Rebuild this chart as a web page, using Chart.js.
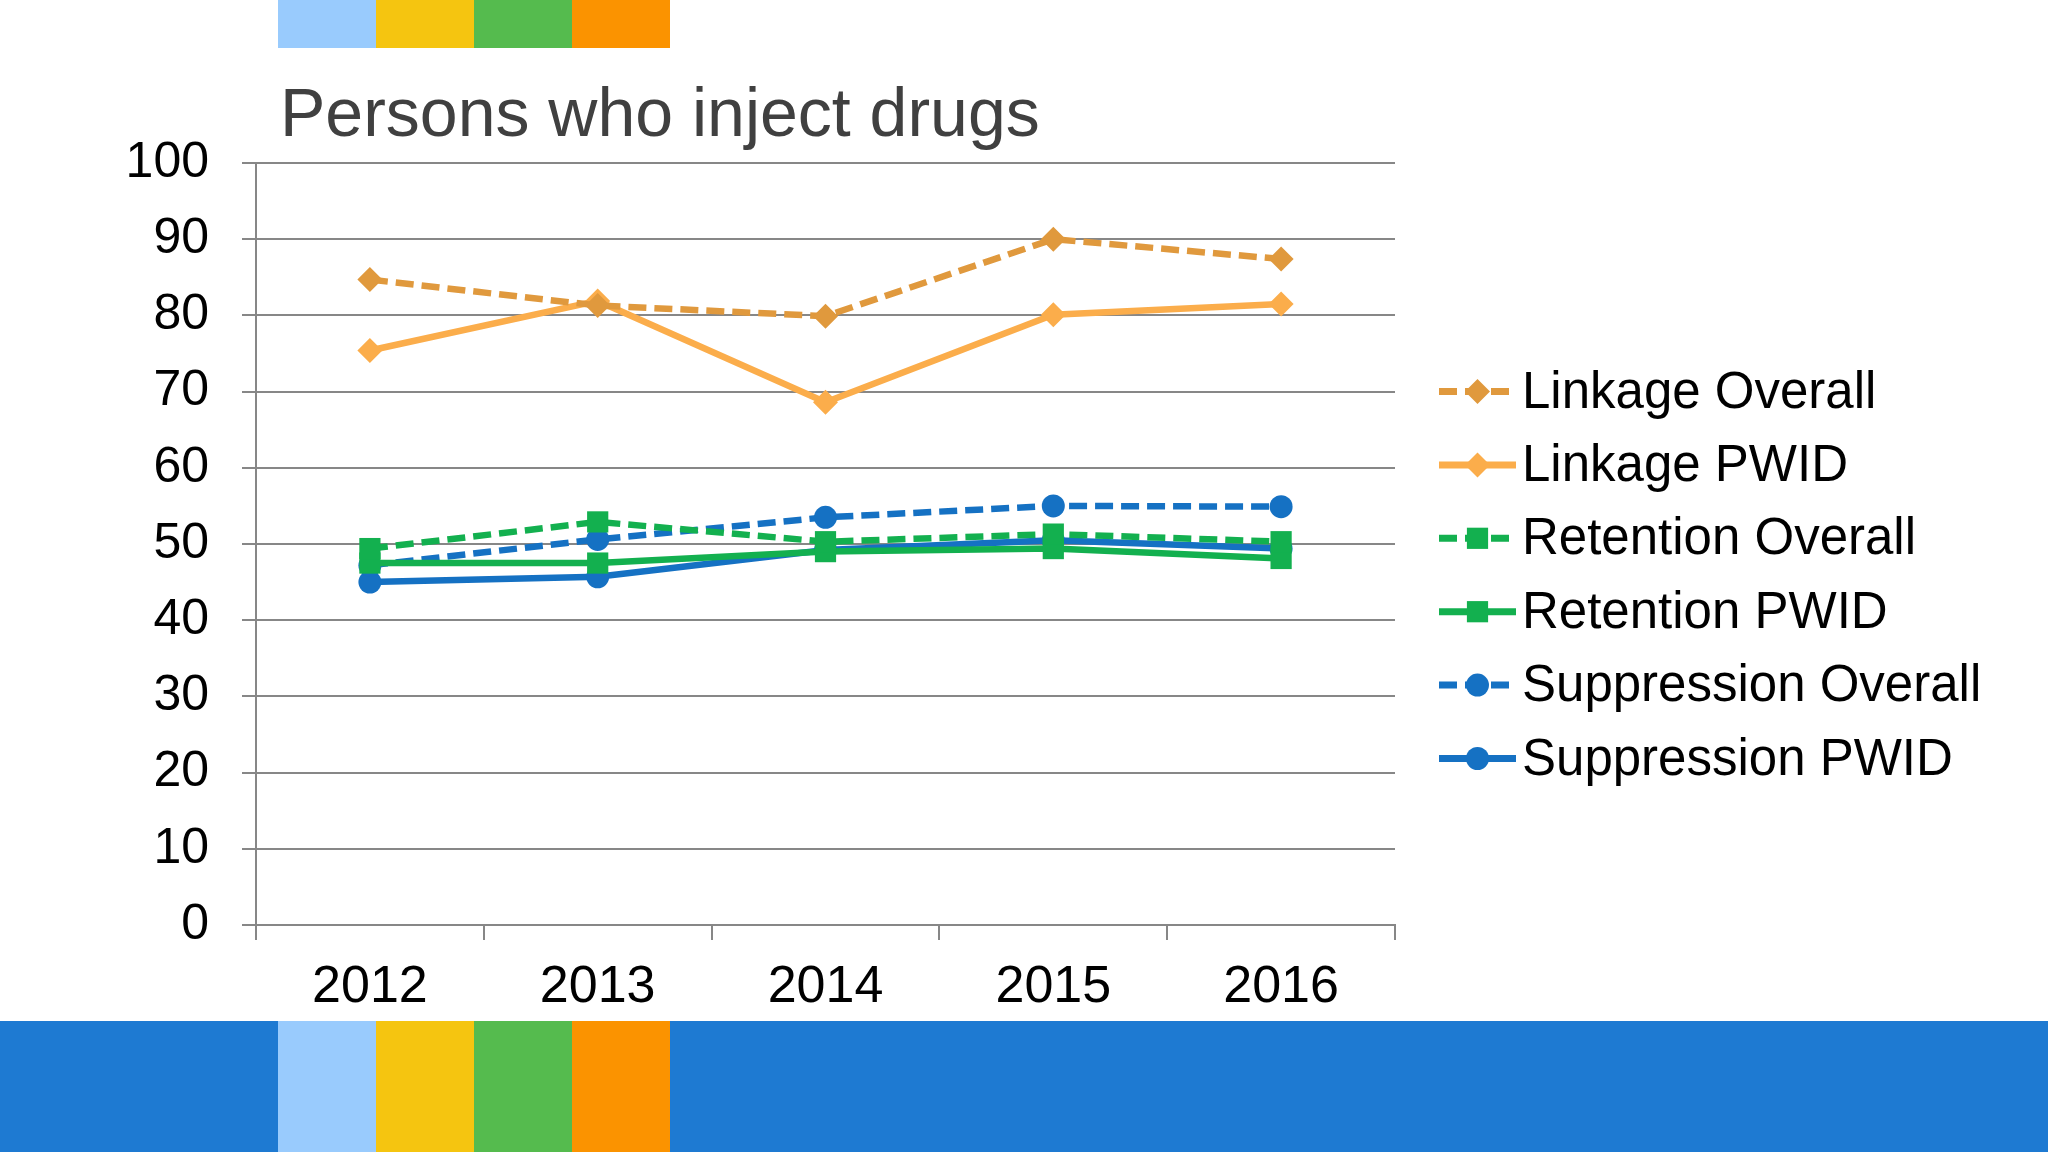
<!DOCTYPE html>
<html>
<head>
<meta charset="utf-8">
<script src="https://cdn.jsdelivr.net/npm/chart.js@4/dist/chart.umd.min.js"></script>
<style>
  html, body { margin: 0; padding: 0; background: #fff; }
  #wrap { position: relative; width: 2048px; height: 1152px; overflow: hidden; }
  #myChart { position: absolute; left: 0; top: 0; }
  .band { position: absolute; }
</style>
</head>
<body>
<div id="wrap">
  <canvas id="myChart" width="2048" height="1152"></canvas>
  <!-- decorative strips of the slide -->
  <div class="band" style="left:0;top:1021px;width:2048px;height:131px;background:#1e7ad2"></div>
  <div class="band" style="left:278px;top:0;width:98px;height:48px;background:#99cbfd"></div>
  <div class="band" style="left:376px;top:0;width:98px;height:48px;background:#f5c510"></div>
  <div class="band" style="left:474px;top:0;width:98px;height:48px;background:#55bb4e"></div>
  <div class="band" style="left:572px;top:0;width:98px;height:48px;background:#fb9300"></div>
  <div class="band" style="left:278px;top:1021px;width:98px;height:131px;background:#99cbfd"></div>
  <div class="band" style="left:376px;top:1021px;width:98px;height:131px;background:#f5c510"></div>
  <div class="band" style="left:474px;top:1021px;width:98px;height:131px;background:#55bb4e"></div>
  <div class="band" style="left:572px;top:1021px;width:98px;height:131px;background:#fb9300"></div>
</div>
<script>
// DATA
const years = ['2012', '2013', '2014', '2015', '2016']
const linkageOverall = [84.7, 81.3, 79.9, 90.0, 87.4]
const linkagePWID = [75.4, 81.9, 68.6, 80.1, 81.5]
const retentionOverall = [49.4, 52.9, 50.3, 51.3, 50.3]
const retentionPWID = [47.5, 47.5, 49.0, 49.4, 48.1]
const suppressionOverall = [47.2, 50.6, 53.5, 55.0, 54.9]
const suppressionPWID = [45.0, 45.7, 49.2, 50.5, 49.4]
const yTicks = [0, 10, 20, 30, 40, 50, 60, 70, 80, 90, 100]

const FONT = '"Liberation Sans", Arial, sans-serif'
const dash = [18, 8]

let mkSet = (label, data, color, dashed, style, radius) => {
    return {
        label: label,
        data: data,
        borderColor: color,
        backgroundColor: color,
        borderWidth: 6.5,
        borderDash: dashed ? dash : [],
        pointStyle: style,
        pointRadius: radius,
        pointHoverRadius: radius,
        pointBorderWidth: 0,
        tension: 0
    }
}

const datasets = [
    mkSet('Linkage Overall', linkageOverall, '#e0993d', true, 'rectRot', 12.5),
    mkSet('Linkage PWID', linkagePWID, '#fbad4b', false, 'rectRot', 12.5),
    mkSet('Retention Overall', retentionOverall, '#13b04f', true, 'rect', 15),
    mkSet('Retention PWID', retentionPWID, '#13b04f', false, 'rect', 15),
    mkSet('Suppression Overall', suppressionOverall, '#1571c3', true, 'circle', 11.5),
    mkSet('Suppression PWID', suppressionPWID, '#1571c3', false, 'circle', 11.5)
]

// title + legend drawn on the canvas, legend keeps the line + marker look
const slideBits = {
    id: 'slideBits',
    afterDraw(chart) {
        const ctx = chart.ctx
        ctx.save()
        ctx.fillStyle = '#404040'
        ctx.font = '68px ' + FONT
        ctx.textBaseline = 'alphabetic'
        ctx.textAlign = 'left'
        ctx.fillText('Persons who inject drugs', 280, 136)

        chart.data.datasets.forEach((ds, i) => {
            let y = 391.5 + i * 73.4
            ctx.strokeStyle = ds.borderColor
            ctx.lineWidth = 7
            ctx.setLineDash(ds.borderDash)
            ctx.beginPath()
            ctx.moveTo(1439, y)
            ctx.lineTo(1516, y)
            ctx.stroke()
            ctx.setLineDash([])
            ctx.fillStyle = ds.backgroundColor
            Chart.helpers.drawPoint(ctx, {
                pointStyle: ds.pointStyle,
                radius: ds.pointRadius,
                rotation: 0,
                borderWidth: 0
            }, 1477.5, y)
            ctx.fillStyle = '#000'
            ctx.font = '51px ' + FONT
            ctx.textBaseline = 'middle'
            ctx.fillText(ds.label, 1522, y + 2)
        })
        ctx.restore()
    }
}

const config = {
    type: 'line',
    data: { labels: years, datasets: datasets },
    options: {
        responsive: false,
        animation: false,
        devicePixelRatio: 1,
        layout: { padding: { left: 0, right: 653, top: 163, bottom: 139 } },
        plugins: {
            legend: { display: false },
            title: { display: false },
            tooltip: { enabled: false }
        },
        scales: {
            x: {
                offset: true,
                grid: {
                    offset: true,
                    drawOnChartArea: false,
                    drawTicks: true,
                    tickLength: 15,
                    color: '#878787',
                    lineWidth: 2
                },
                border: { display: true, color: '#878787', width: 2 },
                ticks: { color: '#000', font: { family: FONT, size: 52 }, padding: 16 },
                afterFit: (scale) => { scale.height = 88 }
            },
            y: {
                min: 0,
                max: 100,
                afterBuildTicks: (scale) => { scale.ticks = yTicks.map(v => ({ value: v })) },
                grid: { color: '#878787', lineWidth: 2, tickLength: 14 },
                border: { display: true, color: '#878787', width: 2 },
                ticks: { color: '#000', font: { family: FONT, size: 50 }, padding: 33 },
                afterFit: (scale) => { scale.width = 256 }
            }
        }
    },
    plugins: [slideBits]
}

const myChart = new Chart(document.getElementById('myChart'), config)
</script>
</body>
</html>
